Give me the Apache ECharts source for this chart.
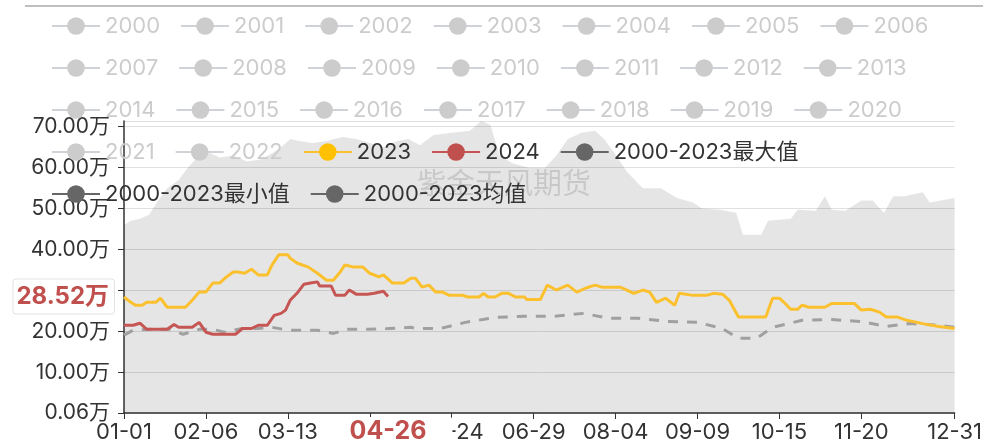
<!DOCTYPE html>
<html>
<head>
<meta charset="utf-8">
<title>库存季节性</title>
<script src="https://cdn.jsdelivr.net/npm/echarts@6/dist/echarts.min.js"></script>
<style>
html, body { margin: 0; padding: 0; background: #fff; }
#main { width: 985px; height: 448px; }
</style>
</head>
<body>
<div id="main"></div>
<script>
// 横轴：按闰年排的 366 天 MM-DD
var monthDays = [31, 29, 31, 30, 31, 30, 31, 31, 30, 31, 30, 31];
var categories = [];
for (var m = 0; m < 12; m++) {
    for (var d = 1; d <= monthDays[m]; d++) {
        categories.push((m < 9 ? '0' : '') + (m + 1) + '-' + (d < 10 ? '0' : '') + d);
    }
}

// 图例里灰掉的年份
var hiddenYears = [];
for (var y = 2000; y <= 2022; y++) hiddenYears.push(String(y));

// 单位：万
var dates2023 = ['01-01', '01-04', '01-06', '01-09', '01-11', '01-15', '01-17', '01-20', '01-28', '01-31',
    '02-03', '02-06', '02-09', '02-12', '02-15', '02-18', '02-20', '02-23', '02-26', '02-29',
    '03-04', '03-06', '03-09', '03-13', '03-14', '03-17', '03-22', '03-26', '03-30', '04-02',
    '04-05', '04-07', '04-11', '04-15', '04-18', '04-22', '04-24', '04-28', '05-03', '05-06',
    '05-08', '05-11', '05-14', '05-17', '05-20', '05-23', '05-29', '05-31', '06-05', '06-07',
    '06-09', '06-12', '06-15', '06-18', '06-21', '06-25', '06-26', '07-02', '07-05', '07-09',
    '07-14', '07-18', '07-22', '07-26', '07-29', '08-06', '08-09', '08-12', '08-16', '08-19',
    '08-22', '08-26', '08-30', '09-01', '09-07', '09-13', '09-16', '09-20', '09-23', '09-27',
    '10-09', '10-12', '10-15', '10-17', '10-20', '10-23', '10-25', '10-28', '11-04', '11-07',
    '11-17', '11-20', '11-24', '11-28', '12-01', '12-06', '12-10', '12-17', '12-24', '12-31'];
var values2023 = [28.4, 27.1, 26.4, 26.4, 27.1, 27.1, 28.1, 25.9, 25.9, 27.6,
    29.6, 29.6, 31.8, 31.8, 33.3, 34.5, 34.5, 34.2, 35.2, 33.8,
    33.8, 36.2, 38.7, 38.7, 37.9, 36.7, 35.7, 34.2, 32.5, 32.5,
    34.5, 36.2, 35.7, 35.7, 34.2, 33.3, 33.8, 31.8, 31.8, 33.0,
    33.0, 30.8, 31.3, 29.6, 29.6, 28.8, 28.8, 28.4, 28.4, 29.3,
    28.4, 28.4, 29.3, 29.3, 28.4, 28.4, 27.8, 27.8, 31.3, 30.1,
    31.3, 29.6, 30.6, 31.3, 30.8, 30.8, 30.1, 29.3, 30.1, 29.6,
    27.1, 28.1, 26.4, 29.3, 28.8, 28.8, 29.3, 29.1, 27.6, 23.5,
    23.5, 28.1, 28.1, 27.1, 25.4, 25.4, 26.4, 25.9, 25.9, 26.8,
    26.8, 25.2, 25.4, 24.7, 23.5, 23.5, 22.7, 21.9, 21.2, 20.7];

var dates2024 = ['01-01', '01-05', '01-08', '01-11', '01-20', '01-23', '01-25', '01-31', '02-03', '02-06',
    '02-09', '02-19', '02-22', '02-26', '02-29', '03-04', '03-07', '03-10', '03-12', '03-14',
    '03-17', '03-20', '03-23', '03-26', '03-27', '04-01', '04-03', '04-07', '04-09', '04-12',
    '04-17', '04-20', '04-24', '04-26'];
var values2024 = [21.5, 21.5, 22.0, 20.5, 20.5, 21.7, 21.0, 21.0, 22.2, 19.8,
    19.3, 19.3, 20.7, 20.7, 21.5, 21.5, 23.9, 24.4, 25.2, 27.6,
    29.3, 31.5, 31.8, 32.1, 31.1, 31.1, 28.8, 28.8, 30.1, 29.1,
    29.1, 29.3, 29.8, 28.52];

var datesMean = ['01-01', '01-05', '01-12', '01-21', '01-27', '02-03', '02-09', '02-14', '02-22', '02-29',
    '03-06', '03-13', '03-26', '04-02', '04-08', '04-17', '04-26', '05-06', '05-08', '05-19',
    '05-30', '06-12', '06-25', '07-08', '07-21', '08-01', '08-14', '08-27', '09-09', '09-20',
    '09-27', '10-05', '10-12', '10-25', '11-07', '11-20', '12-01', '12-11', '12-24', '12-31'];
var valuesMean = [19.1, 20.3, 20.5, 20.5, 19.3, 20.5, 20.5, 19.8, 20.7, 20.7,
    21.0, 20.3, 20.3, 19.5, 20.5, 20.5, 20.7, 21.0, 20.7, 20.7,
    22.2, 23.4, 23.7, 23.7, 24.4, 23.2, 23.2, 22.4, 22.2, 20.7,
    18.3, 18.3, 21.0, 22.7, 22.9, 22.4, 21.2, 21.9, 21.5, 21.0];

var datesMax = ['01-01', '01-04', '01-08', '01-12', '01-16', '01-20', '01-25', '01-29', '02-03', '02-06',
    '02-12', '02-18', '02-24', '03-01', '03-06', '03-10', '03-14', '03-18', '03-24', '03-30',
    '04-06', '04-12', '04-18', '04-24', '04-30', '05-05', '05-10', '05-16', '05-24', '06-01',
    '06-06', '06-10', '06-14', '06-20', '06-27', '07-04', '07-09', '07-14', '07-20', '07-26',
    '07-30', '08-03', '08-09', '08-16', '08-24', '08-31', '09-07', '09-11', '09-19', '09-26',
    '09-29', '10-07', '10-10', '10-20', '10-23', '10-31', '11-04', '11-07', '11-13', '11-20',
    '11-25', '11-30', '12-04', '12-09', '12-17', '12-20', '12-31'];
var valuesMax = [46.0, 47.0, 47.5, 48.5, 52.0, 55.0, 57.0, 60.0, 63.0, 64.0,
    62.5, 63.0, 61.5, 62.0, 63.5, 65.0, 67.0, 66.5, 66.0, 66.5,
    67.5, 67.0, 66.0, 65.0, 66.5, 67.0, 65.5, 68.0, 68.5, 69.0,
    71.4, 70.5, 63.0, 61.0, 60.0, 60.0, 63.0, 67.0, 68.5, 69.0,
    67.0, 64.0, 59.0, 55.0, 55.0, 52.6, 51.5, 50.0, 49.7, 49.0,
    43.6, 43.6, 47.0, 47.5, 49.7, 49.5, 53.0, 49.7, 49.5, 52.0,
    52.0, 49.0, 53.0, 53.0, 54.0, 51.5, 52.6];

var yMin = 0.06, yMax = 71.4;

function pairs(dates, values) {
    var out = [];
    for (var i = 0; i < dates.length; i++) out.push([dates[i], values[i]]);
    return out;
}

function wan(v) {
    return Number(v).toFixed(2) + '万';
}

var lastDate = dates2024[dates2024.length - 1];
var lastValue = values2024[values2024.length - 1];
var font = "Inter, 'Noto Sans CJK SC', sans-serif";

var darkIcon = {
    itemStyle: { color: '#666' },
    lineStyle: { color: '#666', width: 2, type: 'solid', opacity: 1 }
};

var legendData = hiddenYears.map(function (y) { return { name: y }; });
legendData.push({ name: '2023' }, { name: '2024' });
['2000-2023最大值', '2000-2023最小值', '2000-2023均值'].forEach(function (n) {
    legendData.push({ name: n, itemStyle: darkIcon.itemStyle, lineStyle: darkIcon.lineStyle });
});

var selected = {};
hiddenYears.forEach(function (y) { selected[y] = false; });

var series = hiddenYears.map(function (y) {
    return { name: y, type: 'line', data: [], symbol: 'none' };
});
series.push({
    name: '2000-2023最大值',
    type: 'line',
    symbol: 'none',
    data: pairs(datesMax, valuesMax),
    itemStyle: { color: '#666' },
    lineStyle: { opacity: 0 },
    areaStyle: { color: 'rgba(0,0,0,0.1)', opacity: 1 },
    z: 1
});
series.push({
    name: '2000-2023最小值',
    type: 'line',
    symbol: 'none',
    data: [],
    itemStyle: { color: '#666' }
});
series.push({
    name: '2000-2023均值',
    type: 'line',
    symbol: 'none',
    data: pairs(datesMean, valuesMean),
    itemStyle: { color: '#666' },
    lineStyle: { color: '#a0a0a0', width: 3, type: [10, 9] },
    z: 3
});
series.push({
    name: '2023',
    type: 'line',
    symbol: 'none',
    data: pairs(dates2023, values2023),
    itemStyle: { color: '#FFC000' },
    lineStyle: { color: '#FBC02D', width: 3 },
    z: 4
});
series.push({
    name: '2024',
    type: 'line',
    symbol: 'none',
    data: pairs(dates2024, values2024),
    itemStyle: { color: '#C0504D' },
    lineStyle: { color: '#C65654', width: 3 },
    z: 5
});

var labelShown = function (idx) {
    return (idx % 36 === 0 && idx <= 324) || idx === categories.length - 1;
};

var myChart = echarts.init(document.getElementById('main'));
var option = {
    animation: false,
    textStyle: { fontFamily: font },
    graphic: [
        {
            type: 'line',
            shape: { x1: 25, y1: 6, x2: 983, y2: 6 },
            style: { stroke: '#aaa', lineWidth: 1.5 }
        },
        {
            type: 'text',
            left: 417,
            top: 168,
            z: 2,
            style: {
                text: '紫金天风期货',
                fontSize: 29,
                fontFamily: 'Noto Sans CJK SC',
                fill: 'rgba(0,0,0,0.13)'
            }
        }
    ],
    legend: {
        data: legendData,
        selected: selected,
        left: 46,
        top: 10,
        width: 930,
        itemWidth: 48,
        itemHeight: 22,
        itemGap: 20,
        inactiveColor: '#ccc',
        lineStyle: { width: 2 },
        textStyle: { fontSize: 22, color: '#333', lineHeight: 22, fontFamily: font }
    },
    grid: {
        left: 124,
        right: 20,
        top: 121,
        bottom: 35
    },
    xAxis: {
        type: 'category',
        boundaryGap: false,
        data: categories,
        axisLine: { lineStyle: { color: '#333', width: 1.5 } },
        axisTick: { interval: labelShown, length: 6, lineStyle: { color: '#333' } },
        axisLabel: { interval: labelShown, fontSize: 22, color: '#333', margin: 8 },
        axisPointer: {
            show: true,
            type: 'line',
            value: categories.indexOf(lastDate),
            status: 'show',
            triggerTooltip: false,
            lineStyle: { opacity: 0 },
            label: {
                show: true,
                color: '#C0504D',
                fontWeight: 'bold',
                fontSize: 25,
                backgroundColor: '#fff',
                padding: [2, 26, 4, 26],
                margin: 4
            }
        }
    },
    yAxis: {
        type: 'value',
        min: yMin,
        max: yMax,
        axisLine: { show: true, lineStyle: { color: '#333', width: 1.5 } },
        axisTick: { show: true, length: 6, lineStyle: { color: '#333' } },
        axisLabel: {
            fontSize: 21,
            color: '#333',
            margin: 14,
            formatter: function (v) { return wan(v); }
        },
        splitLine: { lineStyle: { color: '#e0e0e0' } },
        axisPointer: {
            show: true,
            type: 'line',
            value: lastValue,
            status: 'show',
            triggerTooltip: false,
            lineStyle: { opacity: 0 },
            label: {
                show: true,
                formatter: function (p) { return wan(p.value); },
                color: '#C0504D',
                fontWeight: 'bold',
                fontSize: 24,
                backgroundColor: '#fff',
                borderColor: '#e3e3e3',
                borderWidth: 1,
                padding: [5, 5, 5, 3],
                margin: 10
            }
        }
    },
    series: series
};
myChart.setOption(option);
</script>
</body>
</html>
